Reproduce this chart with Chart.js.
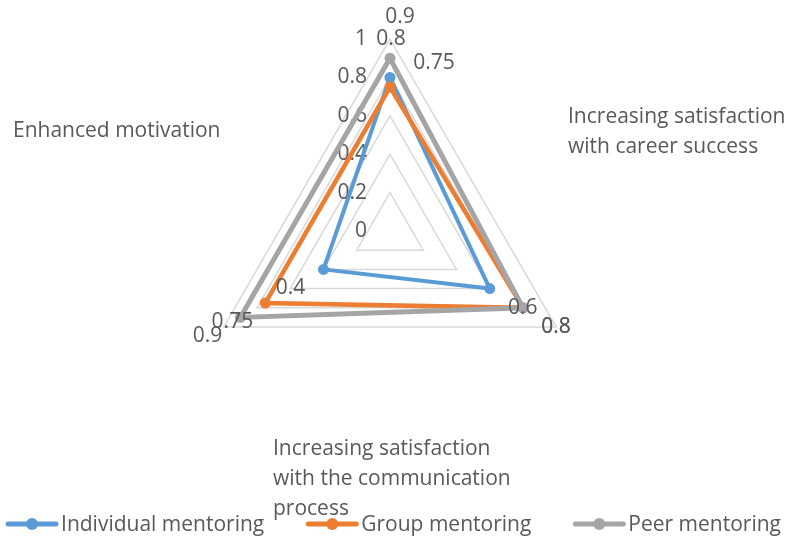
<!DOCTYPE html>
<html>
<head>
<meta charset="utf-8">
<script src="https://cdn.jsdelivr.net/npm/chart.js@4/dist/chart.umd.min.js"></script>
<style>
html,body{margin:0;padding:0;background:#ffffff;}
canvas{display:block;}
</style>
</head>
<body>
<canvas id="c" width="785" height="541"></canvas>
<script>
// ---- data ----
const categories = [
  ['Enhanced motivation'],
  ['Increasing satisfaction', 'with career success'],
  ['Increasing satisfaction', 'with the communication', 'process']
];
const seriesNames = ['Individual mentoring', 'Group mentoring', 'Peer mentoring'];
const individualValues = [0.8, 0.6, 0.4];
const groupValues = [0.75, 0.8, 0.75];
const peerValues = [0.9, 0.8, 0.9];
const tickValues = [0, 0.2, 0.4, 0.6, 0.8, 1];
const tickLabels = ['0', '0.2', '0.4', '0.6', '0.8', '1'];

// ---- style ----
const TEXT = '#595959';
const FONT = '21px "Open Sans", "Noto Sans", sans-serif';
const colors = ['#5B9BD5', '#ED7D31', '#A5A5A5'];

const tickPlugin = {
  id: 'tickText',
  beforeDatasetsDraw(chart) {
    const s = chart.scales.r, ctx = chart.ctx;
    ctx.save();
    ctx.font = FONT; ctx.fillStyle = TEXT;
    ctx.textAlign = 'right'; ctx.textBaseline = 'middle';
    tickValues.forEach((v, i) => {
      const d = s.getDistanceFromCenterForValue(v);
      ctx.fillText(tickLabels[i], s.xCenter - 23, s.yCenter - d);
    });
    ctx.restore();
  }
};

// label layout tweaks for the top axis (Excel moved those labels)
const topShift = {0: [1, 0], 1: [44, 14], 2: [10, -3]};
const valuePlugin = {
  id: 'valueText',
  afterDatasetsDraw(chart) {
    const s = chart.scales.r, ctx = chart.ctx;
    ctx.save();
    ctx.font = FONT; ctx.fillStyle = TEXT;
    ctx.textAlign = 'center'; ctx.textBaseline = 'middle';
    chart.data.datasets.forEach((ds, di) => {
      const meta = chart.getDatasetMeta(di);
      meta.data.forEach((pt, i) => {
        const a = s.getIndexAngle(i) - Math.PI / 2;
        let x = pt.x + 38 * Math.cos(a), y = pt.y + 38 * Math.sin(a);
        if (i === 0) { x += topShift[di][0]; y += topShift[di][1]; }
        ctx.fillText(String(ds.data[i]), x, y);
      });
    });
    ctx.restore();
  }
};

// category text placement relative to the radar centre
const catPos = [[-377, -94], [178, -108], [-117, 224]];
const catPlugin = {
  id: 'catText',
  afterDraw(chart) {
    const s = chart.scales.r, ctx = chart.ctx;
    ctx.save();
    ctx.font = FONT; ctx.fillStyle = TEXT;
    ctx.textAlign = 'left'; ctx.textBaseline = 'alphabetic';
    chart.data.labels.forEach((lines, i) => {
      lines.forEach((t, k) => {
        ctx.fillText(t, s.xCenter + catPos[i][0], s.yCenter + catPos[i][1] + k * 30);
      });
    });
    ctx.restore();
  }
};

const legendPlugin = {
  id: 'lineLegend',
  afterDraw(chart) {
    const ctx = chart.ctx;
    ctx.save();
    ctx.font = FONT;
    const mw = 52, tg = 3, gap = 42, y = 525;
    const items = chart.data.datasets.map(ds => ({
      text: ds.label, color: ds.borderColor,
      w: mw + tg + ctx.measureText(ds.label).width
    }));
    const total = items.reduce((a, it) => a + it.w, 0) + gap * (items.length - 1);
    let x = (chart.width - total) / 2 + 1;
    items.forEach(it => {
      ctx.strokeStyle = it.color; ctx.lineWidth = 5; ctx.lineCap = 'round';
      ctx.beginPath(); ctx.moveTo(x + 2, y - 1); ctx.lineTo(x + mw - 2, y - 1); ctx.stroke();
      ctx.fillStyle = it.color;
      ctx.beginPath(); ctx.arc(x + mw / 2, y - 1, 6, 0, Math.PI * 2); ctx.fill();
      ctx.fillStyle = TEXT; ctx.textAlign = 'left'; ctx.textBaseline = 'middle';
      ctx.fillText(it.text, x + mw + tg, y);
      x += it.w + gap;
    });
    ctx.restore();
  }
};

const mk = (i, data, width, order) => ({
  label: seriesNames[i], data,
  borderColor: colors[i], backgroundColor: colors[i],
  pointBackgroundColor: colors[i], pointBorderColor: colors[i],
  borderWidth: width, pointRadius: 5.5, pointBorderWidth: 0,
  fill: false, order
});

new Chart(document.getElementById('c'), {
  type: 'radar',
  data: {
    labels: categories,
    datasets: [
      mk(0, individualValues, 4, 2),
      mk(1, groupValues, 4.5, 1),
      mk(2, peerValues, 5, 0)
    ]
  },
  options: {
    responsive: false,
    animation: false,
    layout: { padding: { top: 39, bottom: 118, left: 0, right: 5 } },
    elements: { line: { tension: 0, borderJoinStyle: 'miter' } },
    plugins: { legend: { display: false }, tooltip: { enabled: false } },
    scales: {
      r: {
        min: 0, max: 1,
        ticks: { stepSize: 0.2, display: false },
        grid: { color: '#D9D9D9', lineWidth: 1.5 },
        angleLines: { display: false },
        pointLabels: { display: false }
      }
    }
  },
  plugins: [tickPlugin, valuePlugin, catPlugin, legendPlugin]
});
</script>
</body>
</html>
